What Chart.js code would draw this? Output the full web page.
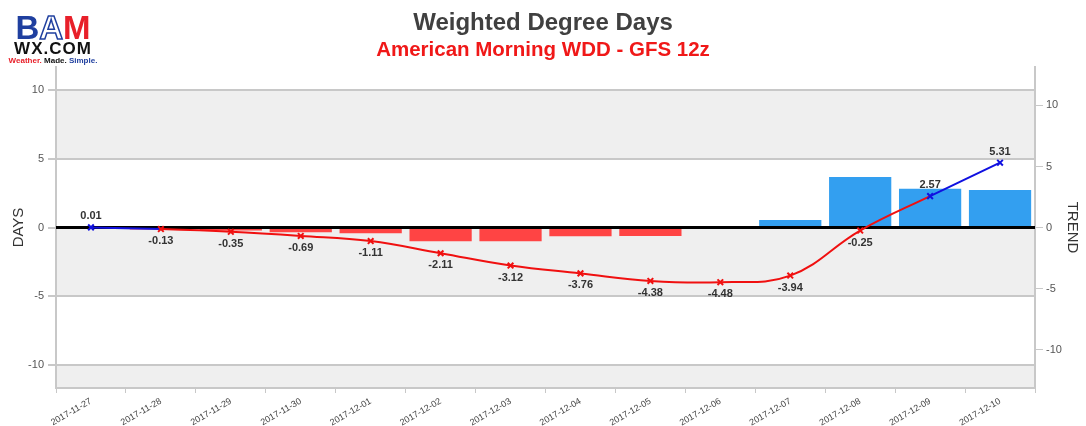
<!DOCTYPE html>
<html>
<head>
<meta charset="utf-8">
<script src="https://cdn.jsdelivr.net/npm/chart.js@4.4.0/dist/chart.umd.min.js"></script>
<style>
  html, body { margin: 0; padding: 0; background: #fff; }
  #wrap { position: relative; width: 1086px; height: 426px; }
  #logo { position: absolute; left: 8px; top: 14px; width: 90px; font-family: "Liberation Sans", Arial, sans-serif; text-align: center; }
  #logo .bam { font-size: 33px; font-weight: bold; line-height: 28px; letter-spacing: 0px; }
  #logo .b { color: #1f3f9f; }
  #logo .a { color: #fff; -webkit-text-stroke: 1.5px #1f3f9f; }
  #logo .m { color: #e8202a; }
  #logo .wx { font-size: 17px; font-weight: bold; color: #111; line-height: 14px; letter-spacing: 1px; }
  #logo .tag { font-size: 8px; font-weight: bold; line-height: 10px; }
</style>
</head>
<body>
<div id="wrap">
  <canvas id="wdd" width="1086" height="426"></canvas>
  <div id="logo">
    <div class="bam"><span class="b">B</span><span class="a">A</span><span class="m">M</span></div>
    <div class="wx">WX.COM</div>
    <div class="tag"><span style="color:#e8202a">Weather.</span> <span style="color:#111">Made.</span> <span style="color:#1f3f9f">Simple.</span></div>
  </div>
</div>
<script>
// valores
const dates = ["2017-11-27", "2017-11-28", "2017-11-29", "2017-11-30", "2017-12-01", "2017-12-02", "2017-12-03",
               "2017-12-04", "2017-12-05", "2017-12-06", "2017-12-07", "2017-12-08", "2017-12-09", "2017-12-10"];
const dailyDays = [0.01, -0.14, -0.22, -0.34, -0.42, -1.00, -1.01, -0.64, -0.62, -0.10, 0.54, 3.69, 2.82, 2.74];
const trend = [0.01, -0.13, -0.35, -0.69, -1.11, -2.11, -3.12, -3.76, -4.38, -4.48, -3.94, -0.25, 2.57, 5.31];
const daysTicks = [-10, -5, 0, 5, 10];

const RED = "#ff4444";
const BLUE_BAR = "#339ff0";
const BLUE_LINE = "#1010e0";
const LINE_RED = "#f01010";
const FONT = "'Liberation Sans', Arial, sans-serif";

const context = document.getElementById("wdd").getContext("2d");

// faixas cinza alternadas no fundo, linha do zero e rótulos
const extras = {
    id: "extras",
    beforeDraw(chart) {
        const { ctx, chartArea: a, scales } = chart;
        const y = scales.y;
        ctx.save();
        ctx.fillStyle = "#efefef";
        for (let v = -15; v < 15; v += 5) {
            if (Math.round((v + 15) / 5) % 2 !== 0) continue;
            const top = Math.max(y.getPixelForValue(v + 5), a.top);
            const bottom = Math.min(y.getPixelForValue(v), a.bottom);
            if (bottom > top) ctx.fillRect(a.left, top, a.right - a.left, bottom - top);
        }
        ctx.restore();
    },
    afterDatasetDraw(chart, args) {
        if (args.index !== 0) return;
        const { ctx, chartArea: a } = chart;
        const y0 = chart.scales.y.getPixelForValue(0);
        ctx.save();
        ctx.strokeStyle = "#000";
        ctx.lineWidth = 3;
        ctx.beginPath();
        ctx.moveTo(a.left, y0);
        ctx.lineTo(a.right, y0);
        ctx.stroke();
        ctx.restore();
    },
    afterDatasetsDraw(chart) {
        const { ctx } = chart;
        const meta = chart.getDatasetMeta(1);
        ctx.save();
        ctx.font = "bold 11px " + FONT;
        ctx.fillStyle = "#333";
        ctx.textAlign = "center";
        ctx.textBaseline = "middle";
        meta.data.forEach((pt, i) => {
            const v = trend[i];
            ctx.fillText(v.toFixed(2), pt.x, pt.y + (v >= 0 ? -11 : 12));
        });
        ctx.restore();
    }
};

new Chart(context, {
    type: "bar",
    data: {
        labels: dates,
        datasets: [{
            label: "days",
            data: dailyDays,
            yAxisID: "y",
            order: 1,
            backgroundColor: dailyDays.map(v => v >= 0 ? BLUE_BAR : RED),
            categoryPercentage: 1,
            barPercentage: 0.89
        }, {
            type: "line",
            label: "trend",
            data: trend,
            yAxisID: "y1",
            order: 0,
            borderWidth: 2,
            tension: 0.4,
            pointStyle: "crossRot",
            pointRadius: 4,
            pointBorderWidth: 2,
            pointBorderColor: trend.map(v => v >= 0 ? BLUE_LINE : LINE_RED),
            segment: {
                borderColor: c => c.p0.parsed.y >= 0 ? BLUE_LINE : LINE_RED
            },
            fill: false
        }]
    },
    options: {
        responsive: false,
        animation: false,
        layout: { padding: 0 },
        plugins: {
            legend: { display: false },
            tooltip: { enabled: false },
            title: {
                display: true,
                text: "Weighted Degree Days",
                color: "#404040",
                font: { family: FONT, size: 24, weight: "bold" },
                padding: { top: 9, bottom: 0 }
            },
            subtitle: {
                display: true,
                text: "American Morning WDD - GFS 12z",
                color: "#f01818",
                font: { family: FONT, size: 20.5, weight: "bold" },
                padding: { top: 0, bottom: 4.6 }
            }
        },
        scales: {
            x: {
                offset: true,
                grid: { display: true, drawOnChartArea: false, drawTicks: true, tickLength: 5, color: "#c8c8c8" },
                border: { color: "#c8c8c8", width: 2 },
                ticks: {
                    color: "#444",
                    font: { family: FONT, size: 9 },
                    maxRotation: 30,
                    minRotation: 30,
                    autoSkip: false
                },
                afterFit: s => { s.height = 38; }
            },
            y: {
                position: "left",
                min: -11.7,
                max: 11.7,
                afterBuildTicks: s => { s.ticks = daysTicks.map(v => ({ value: v })); },
                grid: { color: "#c8c8c8", lineWidth: 2, tickLength: 8 },
                border: { color: "#c8c8c8", width: 2 },
                ticks: { color: "#555", font: { family: FONT, size: 11 }, padding: 4 },
                title: {
                    display: true,
                    text: "DAYS",
                    color: "#333",
                    font: { family: FONT, size: 15 },
                    padding: { top: 10, bottom: 0 }
                },
                afterFit: s => { s.width = 56; }
            },
            y1: {
                position: "right",
                min: -13.15,
                max: 13.15,
                afterBuildTicks: s => { s.ticks = daysTicks.map(v => ({ value: v })); },
                grid: { drawOnChartArea: false, color: "#c8c8c8", lineWidth: 1, tickLength: 8 },
                border: { color: "#c8c8c8", width: 2 },
                ticks: { color: "#555", font: { family: FONT, size: 11 }, padding: 3 },
                title: {
                    display: true,
                    text: "TREND",
                    color: "#333",
                    font: { family: FONT, size: 15 },
                    padding: { top: 5, bottom: 0 }
                },
                afterFit: s => { s.width = 51; }
            }
        }
    },
    plugins: [extras]
});
</script>
</body>
</html>
